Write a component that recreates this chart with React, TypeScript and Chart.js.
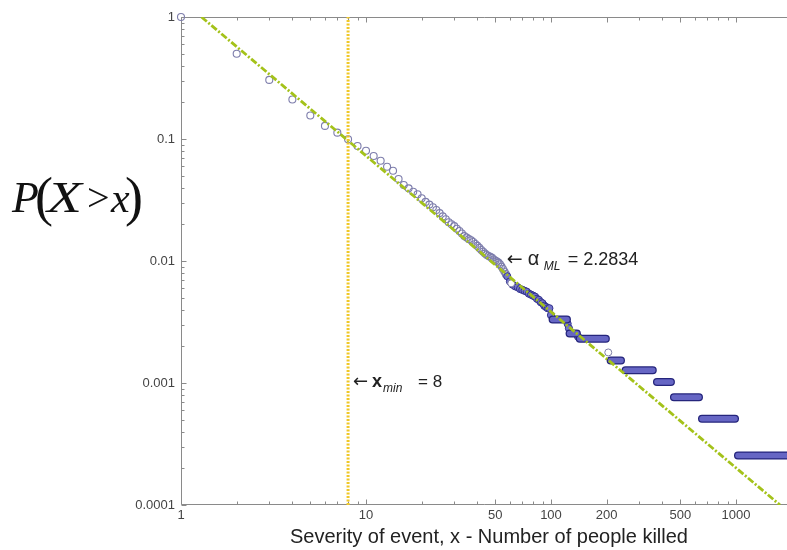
import React, { useEffect, useRef } from "react";
import { Chart, registerables } from "chart.js";

Chart.register(...registerables);

// ---- axis ticks ----
const xTickValues = [1, 10, 50, 100, 200, 500, 1000];
const xTickLabels = ["1", "10", "50", "100", "200", "500", "1000"];
const yTickValues = [0.0001, 0.001, 0.01, 0.1, 1];
const yTickLabels = ["0.0001", "0.001", "0.01", "0.1", "1"];
const xRange = [1, 1887];
const yRange = [0.0001, 1];

// ---- empirical CCDF, sparse part (open circles) ----
const openX = [1, 2, 3, 4, 5, 6, 7, 8, 9, 10, 11, 12, 13, 14, 15, 16, 17, 18, 19, 20,
  21, 22, 23, 24, 25, 26, 27, 28, 29, 30, 31, 32, 33, 34, 35, 36, 37, 38, 39, 40,
  41, 42, 43, 44, 45, 46, 47, 48, 49, 50, 51, 52, 53, 54, 55, 56, 57];
const openY = [1, 0.5, 0.305, 0.211, 0.156, 0.128, 0.1127, 0.0996, 0.0877, 0.08,
  0.0726, 0.0664, 0.0593, 0.055, 0.047, 0.042, 0.0394, 0.037, 0.0352, 0.0327,
  0.0305, 0.029, 0.0276, 0.0262, 0.0247, 0.0232, 0.022, 0.0208, 0.02, 0.0193,
  0.0184, 0.0176, 0.0168, 0.016, 0.0156, 0.0151, 0.0148, 0.0143, 0.0138, 0.0133,
  0.0128, 0.0123, 0.0119, 0.0115, 0.0112, 0.011, 0.0108, 0.0106, 0.0103, 0.0101,
  0.0099, 0.0097, 0.0094, 0.009, 0.0086, 0.0082, 0.0078];

// ---- dense part (filled look) ----
const denseX = [58, 60, 62, 64, 66, 68, 70, 72, 74, 76, 78, 80, 82, 84, 86, 88, 90,
  92, 94, 96, 98, 100, 123, 125, 140];
const denseY = [0.0075, 0.0068, 0.0064, 0.0062, 0.0061, 0.0059, 0.0058, 0.0057, 0.0056,
  0.0054, 0.0053, 0.0052, 0.0051, 0.0049, 0.0048, 0.0046, 0.0045, 0.0043, 0.0042,
  0.0041, 0.0041, 0.0036, 0.00306, 0.00281, 0.0024];

// single isolated (white) points
const isoX = [61, 204];
const isoY = [0.00656, 0.00178];

// flat runs of the CCDF in the tail
const stepFrom = [102, 126, 143, 210, 253, 374, 462, 655, 1025];
const stepTo = [122, 138, 198, 239, 355, 445, 631, 988, 2749];
const stepLevel = [0.00331, 0.00255, 0.0023, 0.00153, 0.001275, 0.00102, 0.000765, 0.00051, 0.000255];

// fitted power law (end points) and x_min
const fitX = [1.29, 1730];
const fitY = [1, 0.0001];
const xMin = 8;
const alphaML = "2.2834";
const alphaLabelAt = [57.6, 0.0102];
const xminLabelAt = [8.51, 0.00102];

const SANS = '"Liberation Sans", Arial, Helvetica, sans-serif';
const ARROW = '"DejaVu Sans", sans-serif';
const SERIF = '"Liberation Serif", "Times New Roman", Times, serif';

const decorPlugin = {
  id: "decor",
  beforeDatasetsDraw(chart: any) {
    const { ctx, chartArea: a, scales } = chart;
    const xs = scales.x;
    const ys = scales.y;
    const L = Math.round(a.left) + 0.5;
    const B = Math.round(a.bottom) - 0.5;
    const T = Math.round(a.top) + 0.5;
    const R = chart.width;
    ctx.save();
    ctx.strokeStyle = "#8a8a8a";
    ctx.lineWidth = 1;
    ctx.beginPath();
    ctx.moveTo(L, T);
    ctx.lineTo(L, B);
    ctx.lineTo(R, B);
    ctx.moveTo(L, T);
    ctx.lineTo(R, T);
    for (let k = 0; k <= 4; k++) {
      for (let m = 1; m <= 9; m++) {
        const v = m * Math.pow(10, k);
        if (v < xs.min || v > xs.max) continue;
        const px = Math.round(xs.getPixelForValue(v)) + 0.5;
        const len = m === 1 || xTickValues.indexOf(v) >= 0 ? 5 : 3;
        ctx.moveTo(px, B);
        ctx.lineTo(px, B - len);
        ctx.moveTo(px, T);
        ctx.lineTo(px, T + len);
      }
    }
    for (let k = -4; k <= 0; k++) {
      for (let m = 1; m <= 9; m++) {
        const v = m * Math.pow(10, k);
        if (v < ys.min * 0.999 || v > ys.max * 1.001) continue;
        const py = Math.round(ys.getPixelForValue(v)) + 0.5;
        const len = m === 1 ? 5 : 3;
        ctx.moveTo(L, py);
        ctx.lineTo(L + len, py);
      }
    }
    ctx.stroke();
    ctx.restore();
  },
  afterDraw(chart: any) {
    const { ctx, scales } = chart;
    const xs = scales.x;
    const ys = scales.y;
    ctx.save();
    ctx.fillStyle = "#111";
    ctx.textAlign = "left";

    // y title P(X > x)
    ctx.textBaseline = "alphabetic";
    const bx = 12;
    const by = 212;
    ctx.font = "italic 44px " + SERIF;
    ctx.fillText("P", bx, by);
    ctx.font = "54px " + SERIF;
    ctx.fillText("(", bx + 23, by + 3);
    ctx.save();
    ctx.translate(bx + 35, by);
    ctx.scale(1.3, 1);
    ctx.font = "italic 44px " + SERIF;
    ctx.fillText("X", 0, 0);
    ctx.restore();
    ctx.font = "40px " + SERIF;
    ctx.fillText(">", bx + 75, by - 1);
    ctx.font = "italic 42px " + SERIF;
    ctx.fillText("x", bx + 99, by);
    ctx.font = "54px " + SERIF;
    ctx.fillText(")", bx + 113, by + 3);

    // x title
    ctx.fillStyle = "#222";
    ctx.textAlign = "center";
    ctx.textBaseline = "middle";
    ctx.font = "20px " + SANS;
    ctx.fillText("Severity of event, x - Number of people killed", 489, 537);

    // alpha annotation
    ctx.textAlign = "left";
    ctx.fillStyle = "#222";
    const ax = xs.getPixelForValue(alphaLabelAt[0]);
    const ay = ys.getPixelForValue(alphaLabelAt[1]);
    ctx.font = "19px " + ARROW;
    ctx.fillText("\u2190", ax, ay);
    ctx.font = "20px " + SANS;
    ctx.fillText("\u03B1", ax + 21, ay);
    ctx.font = "italic 12px " + SANS;
    ctx.fillText("ML", ax + 37, ay + 7);
    ctx.font = "18px " + SANS;
    ctx.fillText("= " + alphaML, ax + 61, ay);

    // x_min annotation
    const mx = xs.getPixelForValue(xminLabelAt[0]);
    const my = ys.getPixelForValue(xminLabelAt[1]);
    ctx.font = "18px " + ARROW;
    ctx.fillText("\u2190", mx, my);
    ctx.font = "bold 18px " + SANS;
    ctx.fillText("x", mx + 19, my);
    ctx.font = "italic 12px " + SANS;
    ctx.fillText("min", mx + 30, my + 7);
    ctx.font = "17px " + SANS;
    ctx.fillText("= " + xMin, mx + 65, my);
    ctx.restore();
  },
};

export default function App() {
  const ref = useRef<HTMLCanvasElement | null>(null);

  useEffect(() => {
    if (!ref.current) return;
    const pts = (xs: number[], ys: number[]) => xs.map((x, i) => ({ x, y: ys[i] }));
    const steps: any[] = [];
    stepFrom.forEach((f, i) => {
      steps.push({ x: f, y: stepLevel[i] });
      steps.push({ x: stepTo[i], y: stepLevel[i] });
      steps.push({ x: stepTo[i], y: null });
    });

    const chart = new Chart(ref.current, {
      type: "scatter",
      data: {
        datasets: [
          {
            type: "line",
            data: [{ x: xMin, y: yRange[0] }, { x: xMin, y: yRange[1] }],
            borderColor: "#f0c828",
            borderWidth: 3,
            borderDash: [2, 1.5],
            pointRadius: 0,
            order: 0,
          } as any,
          {
            type: "line",
            data: pts(fitX, fitY),
            borderColor: "#a4c21a",
            borderWidth: 2.8,
            borderDash: [7, 2, 2, 2],
            pointRadius: 0,
            order: 1,
          } as any,
          {
            data: pts(isoX, isoY),
            pointRadius: 3.5,
            borderWidth: 1,
            borderColor: "#8080a8",
            backgroundColor: "#ffffff",
            clip: false,
            order: 2,
          } as any,
          {
            type: "line",
            data: steps,
            borderColor: "#6666c4",
            borderWidth: 5.5,
            borderCapStyle: "round",
            pointRadius: 0,
            spanGaps: false,
            clip: false,
            order: 3,
          } as any,
          {
            type: "line",
            data: steps,
            borderColor: "#25257c",
            borderWidth: 8,
            borderCapStyle: "round",
            pointRadius: 0,
            spanGaps: false,
            clip: false,
            order: 4,
          } as any,
          {
            data: pts(denseX, denseY),
            pointRadius: 3.6,
            borderWidth: 1,
            borderColor: "#32328c",
            backgroundColor: "#7474cc",
            clip: false,
            order: 5,
          } as any,
          {
            data: pts(openX, openY),
            pointRadius: 3.5,
            borderWidth: 1.1,
            borderColor: "#7e7eac",
            backgroundColor: "rgba(255,255,255,0)",
            clip: false,
            order: 6,
          } as any,
        ],
      },
      options: {
        responsive: false,
        animation: false,
        events: [],
        layout: { autoPadding: false, padding: { top: 17, right: 0, left: 0, bottom: 0 } },
        plugins: { legend: { display: false }, tooltip: { enabled: false } },
        scales: {
          x: {
            type: "logarithmic",
            min: xRange[0],
            max: xRange[1],
            grid: { display: false, drawTicks: false },
            border: { display: false },
            afterFit: (s: any) => {
              s.height = 45;
              s.paddingLeft = 0;
              s.paddingRight = 0;
            },
            afterBuildTicks: (s: any) => {
              s.ticks = xTickValues.map((v) => ({ value: v }));
            },
            ticks: {
              autoSkip: false,
              maxRotation: 0,
              padding: 3,
              color: "#444",
              font: { family: SANS, size: 13 },
              callback: (v: any) => {
                const i = xTickValues.indexOf(Number(v));
                return i >= 0 ? xTickLabels[i] : "";
              },
            },
          },
          y: {
            type: "logarithmic",
            min: yRange[0],
            max: yRange[1],
            grid: { display: false, drawTicks: false },
            border: { display: false },
            afterFit: (s: any) => {
              s.width = 181;
              s.paddingTop = 0;
              s.paddingBottom = 0;
            },
            afterBuildTicks: (s: any) => {
              s.ticks = yTickValues.map((v) => ({ value: v }));
            },
            ticks: {
              autoSkip: false,
              padding: 6,
              color: "#444",
              font: { family: SANS, size: 13 },
              callback: (v: any) => {
                const i = yTickValues.indexOf(Number(v));
                return i >= 0 ? yTickLabels[i] : "";
              },
            },
          },
        },
      } as any,
      plugins: [decorPlugin],
    });
    return () => chart.destroy();
  }, []);

  return (
    <div style={{ position: "absolute", left: 0, top: 0, width: 787, height: 550, background: "#fff" }}>
      <canvas ref={ref} width={787} height={550} />
    </div>
  );
}
